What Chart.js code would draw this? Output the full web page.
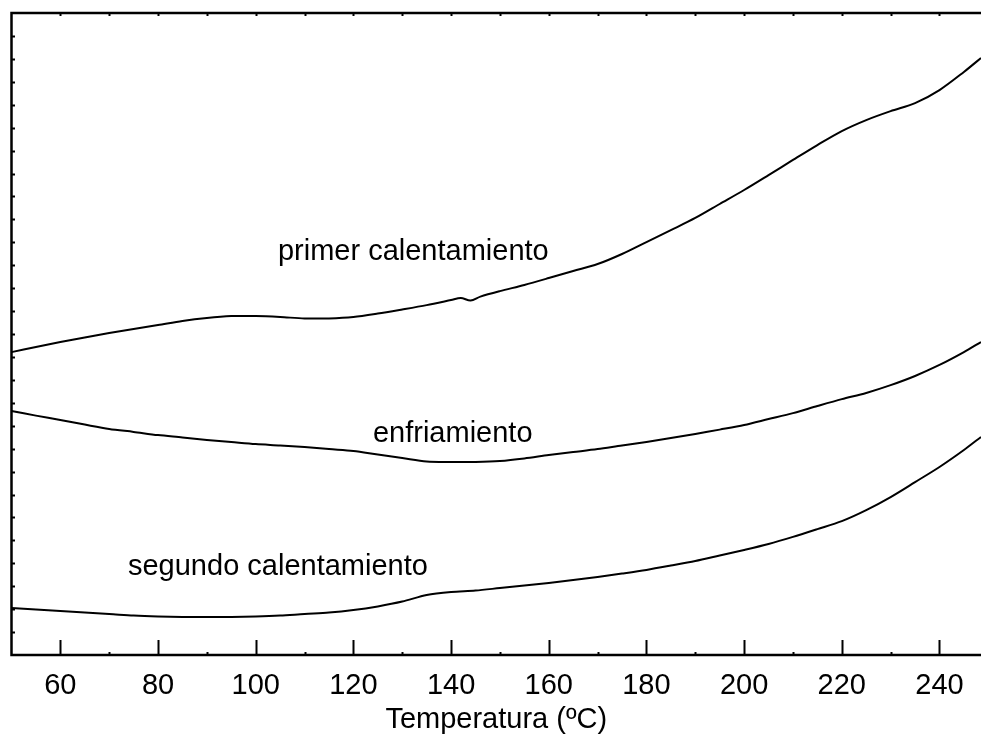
<!DOCTYPE html>
<html>
<head>
<meta charset="utf-8">
<script src="https://cdn.jsdelivr.net/npm/chart.js@4.4.1/dist/chart.umd.min.js"></script>
<style>
  html, body { margin: 0; padding: 0; background: #fff; }
</style>
</head>
<body>
<canvas id="dsc" width="981" height="737"></canvas>
<script>
// temperatura (ºC) y señal (u.a.)
const t1 = [50, 55, 60, 65, 70, 75, 80, 85, 90, 95, 100, 105, 110, 115, 120, 125, 130, 135, 140, 142, 144, 146, 150, 155, 160, 165, 170, 175, 180, 185, 190, 195, 200, 205, 210, 215, 220, 225, 230, 235, 240, 245, 248.5];
const primer = [13.21, 13.43, 13.65, 13.85, 14.04, 14.22, 14.39, 14.57, 14.70, 14.78, 14.78, 14.74, 14.68, 14.68, 14.74, 14.89, 15.07, 15.26, 15.48, 15.57, 15.46, 15.63, 15.87, 16.14, 16.44, 16.75, 17.05, 17.49, 18.01, 18.53, 19.06, 19.67, 20.28, 20.93, 21.59, 22.24, 22.85, 23.33, 23.72, 24.07, 24.64, 25.43, 26.04];

const t2 = [50, 55, 60, 65, 70, 75, 80, 85, 90, 95, 100, 105, 110, 115, 120, 125, 130, 135, 140, 145, 150, 155, 160, 165, 170, 175, 180, 185, 190, 195, 200, 205, 210, 215, 220, 225, 230, 235, 240, 245, 248.5];
const enfriamiento = [10.64, 10.44, 10.25, 10.05, 9.86, 9.73, 9.59, 9.49, 9.38, 9.29, 9.20, 9.14, 9.07, 8.98, 8.90, 8.74, 8.59, 8.44, 8.42, 8.42, 8.46, 8.57, 8.72, 8.85, 8.98, 9.14, 9.29, 9.46, 9.64, 9.83, 10.03, 10.29, 10.55, 10.86, 11.16, 11.43, 11.77, 12.17, 12.65, 13.21, 13.65];

const t3 = [50, 55, 60, 65, 70, 75, 80, 85, 90, 95, 100, 105, 110, 115, 120, 125, 130, 135, 140, 145, 150, 155, 160, 165, 170, 175, 180, 185, 190, 195, 200, 205, 210, 215, 220, 225, 230, 235, 240, 245, 248.5];
const segundo = [2.05, 1.98, 1.92, 1.85, 1.79, 1.72, 1.68, 1.66, 1.66, 1.66, 1.68, 1.72, 1.79, 1.85, 1.96, 2.12, 2.33, 2.62, 2.75, 2.81, 2.92, 3.03, 3.14, 3.27, 3.40, 3.55, 3.71, 3.90, 4.10, 4.34, 4.58, 4.84, 5.15, 5.49, 5.84, 6.32, 6.89, 7.54, 8.20, 8.94, 9.51];

const xTicks = [60, 80, 100, 120, 140, 160, 180, 200, 220, 240];

// rótulos de las curvas: [texto, temperatura, señal]
const labels = [
  ["primer calentamiento", 104.55, 17.23],
  ["enfriamiento", 124.0, 9.29],
  ["segundo calentamiento", 73.85, 3.49]
];

const FONT = '"Liberation Sans", Arial, sans-serif';
const FSIZE = 29;

function pts(xs, ys) {
  return xs.map((x, i) => ({ x: x, y: ys[i] }));
}

const frame = {
  id: 'frame',
  afterDraw(chart) {
    const { ctx, chartArea: a, scales: { x, y } } = chart;
    ctx.save();
    ctx.strokeStyle = '#000';
    ctx.lineWidth = 2.5;
    ctx.beginPath();
    ctx.moveTo(a.right + 5, a.top);
    ctx.lineTo(a.left, a.top);
    ctx.lineTo(a.left, a.bottom);
    ctx.lineTo(a.right + 5, a.bottom);
    ctx.stroke();

    ctx.lineWidth = 2;
    ctx.beginPath();
    // marcas del eje x (abajo largas cada 20, cortas cada 10; arriba cortas)
    for (let v = 60; v <= x.max; v += 10) {
      const px = Math.round(x.getPixelForValue(v)) + 0.5;
      const len = v % 20 === 0 ? 15 : 3;
      ctx.moveTo(px, a.bottom);
      ctx.lineTo(px, a.bottom - len);
      ctx.moveTo(px, a.top);
      ctx.lineTo(px, a.top + 3);
    }
    // marcas del eje y
    for (let v = y.min + 1; v < y.max; v += 1) {
      const py = Math.round(y.getPixelForValue(v)) + 0.5;
      ctx.moveTo(a.left, py);
      ctx.lineTo(a.left + 3.5, py);
    }
    ctx.stroke();

    ctx.fillStyle = '#000';
    ctx.font = FSIZE + 'px ' + FONT;
    ctx.textAlign = 'left';
    ctx.textBaseline = 'alphabetic';
    labels.forEach(([txt, tx, ty]) => {
      ctx.fillText(txt, x.getPixelForValue(tx), y.getPixelForValue(ty));
    });
    ctx.restore();
  }
};

const lineStyle = {
  borderColor: '#000',
  borderWidth: 2,
  pointRadius: 0,
  fill: false,
  tension: 0.3
};

new Chart(document.getElementById('dsc'), {
  type: 'line',
  data: {
    datasets: [
      Object.assign({ label: 'primer calentamiento', data: pts(t1, primer) }, lineStyle),
      Object.assign({ label: 'enfriamiento', data: pts(t2, enfriamiento) }, lineStyle),
      Object.assign({ label: 'segundo calentamiento', data: pts(t3, segundo) }, lineStyle)
    ]
  },
  options: {
    responsive: false,
    animation: false,
    devicePixelRatio: 1,
    layout: { padding: { top: 13, left: 0, right: 0, bottom: 0 } },
    plugins: { legend: { display: false }, tooltip: { enabled: false } },
    scales: {
      x: {
        type: 'linear',
        min: 50,
        max: 248.5,
        afterFit(s) { s.height = 82; },
        afterBuildTicks(s) { s.ticks = xTicks.map(v => ({ value: v })); },
        grid: { display: false, drawTicks: false },
        border: { display: false },
        ticks: { color: '#000', padding: 14, maxRotation: 0, font: { family: FONT, size: FSIZE } },
        title: {
          display: true,
          text: 'Temperatura (ºC)',
          color: '#000',
          font: { family: FONT, size: FSIZE },
          padding: { top: 0, bottom: 0 }
        }
      },
      y: {
        min: 0,
        max: 28,
        afterFit(s) { s.width = 11.5; },
        grid: { display: false, drawTicks: false },
        border: { display: false },
        ticks: { display: false, stepSize: 1 }
      }
    }
  },
  plugins: [frame]
});
</script>
</body>
</html>
